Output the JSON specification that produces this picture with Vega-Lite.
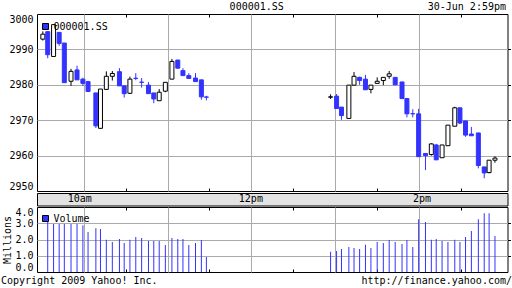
{
  "$schema": "https://vega.github.io/schema/vega-lite/v6.json",
  "background": "white",
  "padding": 0,
  "spacing": 0,
  "datasets": {
    "candles": [
      {"t": 570.6, "o": 2992.9, "h": 2995.1, "l": 2992.5, "c": 2994.3, "dir": "up", "vol": null},
      {"t": 574.1, "o": 2995.0, "h": 2995.2, "l": 2987.5, "c": 2988.5, "dir": "down", "vol": 3.07},
      {"t": 578.3, "o": 2988.0, "h": 2997.0, "l": 2988.0, "c": 2997.0, "dir": "up", "vol": 2.95},
      {"t": 582.3, "o": 2994.8, "h": 2994.8, "l": 2991.0, "c": 2991.7, "dir": "down", "vol": 2.95},
      {"t": 586.0, "o": 2991.8, "h": 2991.8, "l": 2980.6, "c": 2980.6, "dir": "down", "vol": 2.95},
      {"t": 590.8, "o": 2981.0, "h": 2984.5, "l": 2979.7, "c": 2983.8, "dir": "up", "vol": 2.95},
      {"t": 595.1, "o": 2984.2, "h": 2985.4, "l": 2981.4, "c": 2981.4, "dir": "down", "vol": 2.95},
      {"t": 599.3, "o": 2981.6, "h": 2982.0, "l": 2979.7, "c": 2980.4, "dir": "down", "vol": 2.88},
      {"t": 603.0, "o": 2980.9, "h": 2981.1, "l": 2978.1, "c": 2978.1, "dir": "down", "vol": 2.46},
      {"t": 608.6, "o": 2977.7, "h": 2977.7, "l": 2967.8, "c": 2968.4, "dir": "down", "vol": 2.70},
      {"t": 611.9, "o": 2967.7, "h": 2978.8, "l": 2967.7, "c": 2978.8, "dir": "up", "vol": 2.64},
      {"t": 616.1, "o": 2978.7, "h": 2983.8, "l": 2978.7, "c": 2982.4, "dir": "up", "vol": 1.99},
      {"t": 620.4, "o": 2982.4, "h": 2983.9, "l": 2981.2, "c": 2983.2, "dir": "up", "vol": 1.85},
      {"t": 625.5, "o": 2983.7, "h": 2984.7, "l": 2979.7, "c": 2979.7, "dir": "down", "vol": 2.03},
      {"t": 628.9, "o": 2979.7, "h": 2979.7, "l": 2976.4, "c": 2977.5, "dir": "down", "vol": 1.79},
      {"t": 633.0, "o": 2977.6, "h": 2982.3, "l": 2977.4, "c": 2981.6, "dir": "up", "vol": 1.99},
      {"t": 637.2, "o": 2981.85, "h": 2983.3, "l": 2981.3, "c": 2981.8, "dir": "down", "vol": 2.15},
      {"t": 641.4, "o": 2980.75, "h": 2981.9, "l": 2979.2, "c": 2980.7, "dir": "down", "vol": 2.09},
      {"t": 646.3, "o": 2979.9, "h": 2980.8, "l": 2977.5, "c": 2977.5, "dir": "down", "vol": 1.91},
      {"t": 650.1, "o": 2977.7, "h": 2977.7, "l": 2974.8, "c": 2976.0, "dir": "down", "vol": 1.91},
      {"t": 654.0, "o": 2975.5, "h": 2978.8, "l": 2975.5, "c": 2977.9, "dir": "up", "vol": 1.91},
      {"t": 658.4, "o": 2978.2, "h": 2980.7, "l": 2977.9, "c": 2980.7, "dir": "up", "vol": 1.66},
      {"t": 663.1, "o": 2981.6, "h": 2987.3, "l": 2981.6, "c": 2986.6, "dir": "up", "vol": 2.09},
      {"t": 667.3, "o": 2987.0, "h": 2987.0, "l": 2984.5, "c": 2984.7, "dir": "down", "vol": 2.03},
      {"t": 671.0, "o": 2984.0, "h": 2984.7, "l": 2982.6, "c": 2982.6, "dir": "down", "vol": 2.03},
      {"t": 675.2, "o": 2982.6, "h": 2983.3, "l": 2981.8, "c": 2981.8, "dir": "down", "vol": 1.66},
      {"t": 680.0, "o": 2981.9, "h": 2983.3, "l": 2980.9, "c": 2980.9, "dir": "down", "vol": 1.79},
      {"t": 684.2, "o": 2981.4, "h": 2981.4, "l": 2975.8, "c": 2976.6, "dir": "down", "vol": 1.97},
      {"t": 687.8, "o": 2976.55, "h": 2976.9, "l": 2975.6, "c": 2976.5, "dir": "down", "vol": 0.93},
      {"t": 776.8, "o": 2976.5, "h": 2977.3, "l": 2976.0, "c": 2976.6, "dir": "up", "vol": 1.24},
      {"t": 781.1, "o": 2976.8, "h": 2977.4, "l": 2973.3, "c": 2973.3, "dir": "down", "vol": 1.30},
      {"t": 784.6, "o": 2973.7, "h": 2973.7, "l": 2970.1, "c": 2971.3, "dir": "down", "vol": 1.42},
      {"t": 789.9, "o": 2970.5, "h": 2979.9, "l": 2970.5, "c": 2979.9, "dir": "up", "vol": 1.54},
      {"t": 793.6, "o": 2979.9, "h": 2983.6, "l": 2979.9, "c": 2982.4, "dir": "up", "vol": 1.48},
      {"t": 797.6, "o": 2982.1, "h": 2982.3, "l": 2980.0, "c": 2981.2, "dir": "down", "vol": 1.42},
      {"t": 801.8, "o": 2981.6, "h": 2982.8, "l": 2978.6, "c": 2978.6, "dir": "down", "vol": 1.67},
      {"t": 805.7, "o": 2978.7, "h": 2979.9, "l": 2977.6, "c": 2979.9, "dir": "up", "vol": 1.48},
      {"t": 810.2, "o": 2980.4, "h": 2982.1, "l": 2980.4, "c": 2981.0, "dir": "up", "vol": 1.85},
      {"t": 814.6, "o": 2981.2, "h": 2982.1, "l": 2979.9, "c": 2982.1, "dir": "up", "vol": 1.79},
      {"t": 818.8, "o": 2982.4, "h": 2983.9, "l": 2981.7, "c": 2983.1, "dir": "up", "vol": 1.97},
      {"t": 823.1, "o": 2982.1, "h": 2982.1, "l": 2980.0, "c": 2980.0, "dir": "down", "vol": 1.85},
      {"t": 828.0, "o": 2980.8, "h": 2980.8, "l": 2976.1, "c": 2976.1, "dir": "down", "vol": 1.73},
      {"t": 831.5, "o": 2976.1, "h": 2976.3, "l": 2970.8, "c": 2971.8, "dir": "down", "vol": 1.97},
      {"t": 835.7, "o": 2971.85, "h": 2973.1, "l": 2970.8, "c": 2971.8, "dir": "down", "vol": 1.54},
      {"t": 839.9, "o": 2971.8, "h": 2973.2, "l": 2959.7, "c": 2959.7, "dir": "down", "vol": 3.25},
      {"t": 844.8, "o": 2960.6, "h": 2960.6, "l": 2955.9, "c": 2960.0, "dir": "down", "vol": 3.07},
      {"t": 849.0, "o": 2960.3, "h": 2963.5, "l": 2960.0, "c": 2963.3, "dir": "up", "vol": 1.99},
      {"t": 852.5, "o": 2963.0, "h": 2963.3, "l": 2958.8, "c": 2958.8, "dir": "down", "vol": 2.03},
      {"t": 856.7, "o": 2959.4, "h": 2963.0, "l": 2959.4, "c": 2963.0, "dir": "up", "vol": 1.91},
      {"t": 860.9, "o": 2962.8, "h": 2968.6, "l": 2962.8, "c": 2968.6, "dir": "up", "vol": 1.85},
      {"t": 865.8, "o": 2968.3, "h": 2973.8, "l": 2968.3, "c": 2973.5, "dir": "up", "vol": 1.99},
      {"t": 869.5, "o": 2973.5, "h": 2973.5, "l": 2968.9, "c": 2969.2, "dir": "down", "vol": 1.85},
      {"t": 873.5, "o": 2969.8, "h": 2969.8, "l": 2965.3, "c": 2965.8, "dir": "down", "vol": 2.15},
      {"t": 877.7, "o": 2966.1, "h": 2968.1, "l": 2965.6, "c": 2965.6, "dir": "down", "vol": 2.52},
      {"t": 882.7, "o": 2966.4, "h": 2966.4, "l": 2956.4, "c": 2957.2, "dir": "down", "vol": 3.25},
      {"t": 886.9, "o": 2956.8, "h": 2956.8, "l": 2953.6, "c": 2955.1, "dir": "down", "vol": 3.62},
      {"t": 890.4, "o": 2955.2, "h": 2958.7, "l": 2955.0, "c": 2958.7, "dir": "up", "vol": 3.62},
      {"t": 894.6, "o": 2958.7, "h": 2959.8, "l": 2958.0, "c": 2959.3, "dir": "up", "vol": 2.22}
    ],
    "timeLabels": [
      {"t": 600, "label": "10am"},
      {"t": 720, "label": "12pm"},
      {"t": 840, "label": "2pm"}
    ]
  },
  "resolve": {
    "scale": {"color": "independent", "fill": "independent"},
    "legend": {"color": "independent", "fill": "independent"}
  },
  "vconcat": [
    {
      "width": 470.5,
      "height": 177,
      "data": {"name": "candles"},
      "resolve": {"axis": {"x": "independent", "y": "independent"}},
      "layer": [
        {
          "mark": {"type": "rule", "strokeWidth": 1},
          "encoding": {
            "x": {
              "field": "t", "type": "quantitative",
              "scale": {"domain": [570, 900], "nice": false, "zero": false},
              "axis": {
                "orient": "top",
                "values": [600, 630, 660, 690, 720, 750, 780, 810, 840, 870],
                "labels": false,
                "grid": true,
                "gridColor": {"condition": {"test": "datum.value % 60 === 0", "value": "#aaaaaa"}, "value": "transparent"},
                "ticks": true,
                "tickSize": -3,
                "tickColor": {"condition": {"test": "datum.value % 60 === 0", "value": "transparent"}, "value": "black"},
                "title": "000001.SS",
                "titleX": 219.2,
                "titleY": -5,
                "titleAlign": "center",
                "titleBaseline": "alphabetic"
              }
            },
            "y": {
              "field": "l", "type": "quantitative",
              "scale": {"domain": [2950, 3000], "nice": false, "zero": false},
              "axis": {
                "orient": "left",
                "values": [2950, 2960, 2970, 2980, 2990, 3000],
                "format": "d",
                "title": null,
                "ticks": false,
                "labelPadding": 4,
                "labelFlush": true,
                "grid": true,
                "gridColor": {"condition": {"test": "datum.value === 2950 || datum.value === 3000", "value": "transparent"}, "value": "#aaaaaa"}
              }
            },
            "y2": {"field": "h"},
            "color": {"condition": {"test": "datum.dir === 'up'", "value": "black"}, "value": "#3333ff"}
          }
        },
        {
          "mark": {"type": "bar", "size": 4, "strokeWidth": 1},
          "encoding": {
            "x": {
              "field": "t", "type": "quantitative",
              "scale": {"domain": [570, 900], "nice": false, "zero": false},
              "axis": {
                "orient": "bottom",
                "values": [630, 690, 750, 810, 870],
                "labels": false,
                "grid": false,
                "tickSize": -3,
                "title": null
              }
            },
            "y": {
              "field": "o", "type": "quantitative",
              "scale": {"domain": [2950, 3000], "nice": false, "zero": false},
              "axis": {
                "orient": "right",
                "values": [2960, 2970, 2980, 2990],
                "labels": false,
                "grid": false,
                "tickSize": 3,
                "title": "30-Jun 2:59pm",
                "titleAngle": 0,
                "titleX": -2,
                "titleY": -5,
                "titleAlign": "right",
                "titleBaseline": "alphabetic"
              }
            },
            "y2": {"field": "c"},
            "fill": {
              "field": "dir", "type": "nominal",
              "scale": {"domain": ["down", "up"], "range": ["#3333ff", "white"]},
              "legend": {
                "orient": "none",
                "legendX": 3.5,
                "legendY": 7.5,
                "title": null,
                "values": ["down"],
                "labelExpr": "'000001.SS'",
                "symbolType": "square",
                "symbolSize": 36,
                "symbolStrokeColor": "black",
                "symbolStrokeWidth": 1,
                "labelOffset": 3,
                "padding": 0
              }
            },
            "stroke": {"condition": {"test": "datum.dir === 'up'", "value": "black"}, "value": "#3333ff"}
          }
        }
      ]
    },
    {
      "width": 470.5,
      "height": 12.5,
      "view": {"fill": "#e3e3e3", "stroke": "black"},
      "data": {"name": "timeLabels"},
      "mark": {"type": "text", "fontSize": 10, "color": "black", "baseline": "middle"},
      "encoding": {
        "x": {
          "field": "t", "type": "quantitative",
          "scale": {"domain": [570, 900], "nice": false, "zero": false},
          "axis": null
        },
        "text": {"field": "label"}
      }
    },
    {
      "width": 470.5,
      "height": 65,
      "data": {"name": "candles"},
      "resolve": {"axis": {"x": "independent", "y": "independent"}},
      "layer": [
        {
          "transform": [{"filter": "datum.t < 720"}],
          "mark": {"type": "bar", "size": 1},
          "encoding": {
            "x": {
              "field": "t", "type": "quantitative",
              "scale": {"domain": [570, 900], "nice": false, "zero": false},
              "axis": {
                "orient": "top",
                "values": [600, 630, 660, 690, 720, 750, 780, 810, 840, 870],
                "labels": false,
                "grid": true,
                "gridColor": {"condition": {"test": "datum.value % 60 === 0", "value": "#aaaaaa"}, "value": "transparent"},
                "ticks": true,
                "tickSize": -3,
                "tickColor": {"condition": {"test": "datum.value % 60 === 0", "value": "transparent"}, "value": "black"},
                "title": null
              }
            },
            "y": {
              "field": "vol", "type": "quantitative",
              "scale": {"domain": [0, 4], "nice": false},
              "axis": {
                "orient": "left",
                "values": [0, 1, 2, 3, 4],
                "format": ".1f",
                "labelFlush": true,
                "ticks": false,
                "labelPadding": 4,
                "grid": true,
                "gridColor": {"condition": {"test": "datum.value === 0 || datum.value === 4", "value": "transparent"}, "value": "#aaaaaa"},
                "title": "Millions",
                "titleX": -29.5,
                "titleY": 32.5,
                "titleAngle": 270,
                "titleAlign": "center",
                "titleBaseline": "middle"
              }
            },
            "y2": {"datum": 0},
            "color": {
              "datum": "Volume", "type": "nominal",
              "scale": {"range": ["#3333ff"]},
              "legend": {
                "orient": "none",
                "legendX": 3.5,
                "legendY": 6.5,
                "title": null,
                "symbolType": "square",
                "symbolSize": 36,
                "symbolStrokeColor": "black",
                "symbolStrokeWidth": 1,
                "labelOffset": 3,
                "padding": 0
              }
            }
          }
        },
        {
          "transform": [{"filter": "datum.t > 720"}],
          "mark": {"type": "bar", "size": 1},
          "encoding": {
            "x": {
              "field": "t", "type": "quantitative",
              "scale": {"domain": [570, 900], "nice": false, "zero": false},
              "axis": {
                "orient": "bottom",
                "values": [630, 690, 750, 810, 870],
                "labels": false,
                "grid": false,
                "tickSize": -3,
                "title": "Copyright 2009 Yahoo! Inc.",
                "titleX": -36.5,
                "titleY": 11.5,
                "titleAlign": "left",
                "titleBaseline": "alphabetic"
              }
            },
            "y": {
              "field": "vol", "type": "quantitative",
              "scale": {"domain": [0, 4], "nice": false},
              "axis": {
                "orient": "right",
                "values": [1, 2, 3],
                "labels": false,
                "grid": false,
                "tickSize": 3,
                "title": "http://finance.yahoo.com/",
                "titleAngle": 0,
                "titleX": 4,
                "titleY": 76.5,
                "titleAlign": "right",
                "titleBaseline": "alphabetic"
              }
            },
            "y2": {"datum": 0},
            "color": {"datum": "Volume", "type": "nominal", "scale": {"range": ["#3333ff"]}}
          }
        }
      ]
    }
  ],
  "config": {
    "font": "DejaVu Sans Mono",
    "view": {"stroke": "black", "strokeWidth": 1},
    "axis": {
      "domain": false,
      "labelFont": "DejaVu Sans Mono",
      "labelFontSize": 10,
      "labelColor": "black",
      "titleFont": "DejaVu Sans Mono",
      "titleFontSize": 10,
      "titleFontWeight": "normal",
      "titleColor": "black",
      "tickColor": "black",
      "gridOpacity": 1
    },
    "legend": {
      "labelFont": "DejaVu Sans Mono",
      "labelFontSize": 10,
      "labelColor": "black"
    },
    "text": {"font": "DejaVu Sans Mono"}
  }
}
